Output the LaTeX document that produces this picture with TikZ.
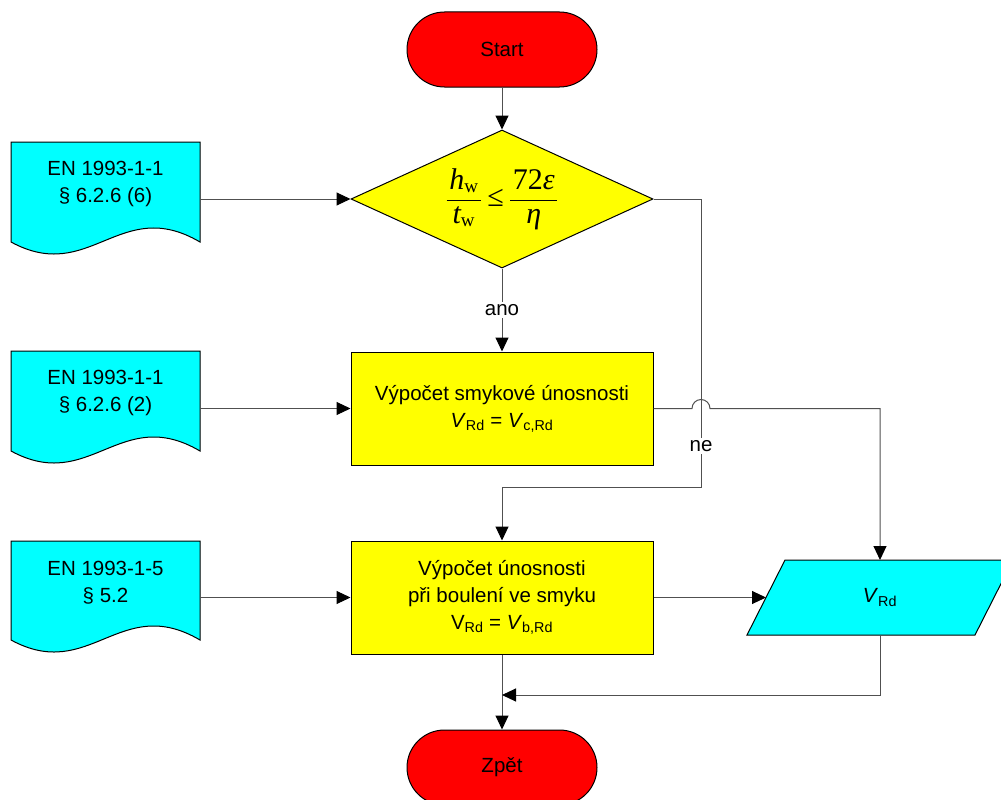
\documentclass[tikz,border=0pt]{standalone}
\usepackage{fontspec}
\setmainfont{Liberation Sans}
\newfontfamily\tms{Liberation Serif}
\usetikzlibrary{arrows.meta,shapes.geometric,calc}
\definecolor{cy}{RGB}{0,255,255}
\definecolor{ye}{RGB}{255,255,0}
\definecolor{rd}{RGB}{255,0,0}
\definecolor{ln}{RGB}{80,80,80}
\begin{document}
\begin{tikzpicture}[x=1pt,y=-1pt,
  every node/.style={font=\fontsize{20.5}{27}\selectfont},
  shapeline/.style={draw=black,line width=1pt},
  term/.style={shapeline,fill=rd,rounded corners=37.5pt,minimum width=190pt,minimum height=75pt,inner sep=0pt},
  proc/.style={shapeline,fill=ye,minimum width=302pt,minimum height=113pt,align=center,inner sep=0pt},
  decis/.style={shapeline,fill=ye,diamond,aspect=2.19,minimum width=302pt,minimum height=138pt,inner sep=0pt},
  docshape/.style={shapeline,fill=cy},
  iofill/.style={shapeline,fill=cy},
  doctext/.style={align=center,inner sep=0pt},
  conn/.style={draw=ln,line width=1pt,-{Triangle[length=14pt,width=13pt,color=black]}},
  lbl/.style={fill=white,inner sep=2pt}
]
\useasboundingbox (0,0) rectangle (1001,800);
\clip (0,0) rectangle (1001,800);

% terminals
\node[term] (start) at (502,49.5) {Start};
\node[term] (zpet) at (502,767.5) {Zpět};

% decision
\node[decis] (dia) at (502,199) {\fontsize{30}{34}\selectfont
  $\displaystyle
  \frac{\mkern2mu\mbox{\tms\itshape h}_{\mbox{\tms\fontsize{19}{19}\selectfont w}}\mkern2mu}
       {\mkern2mu\mbox{\tms\itshape t}_{\mbox{\tms\fontsize{19}{19}\selectfont w}}\mkern2mu}
  \mbox{\tms\,≤\,}
  \frac{\mkern2mu\mbox{\tms 72\itshape ε}\mkern2mu}{\mbox{\tms\itshape η}}$};

% process boxes
\node[proc] (box1) at (502,408.5) {Výpočet smykové únosnosti\\
  \textit{V}\textsubscript{Rd} = \textit{V}\textsubscript{c,Rd}};
\node[proc] (box2) at (502,597.5) {Výpočet únosnosti\\při boulení ve smyku\\
  V\textsubscript{Rd} = \textit{V}\textsubscript{b,Rd}};

% documents
\draw[docshape] (11,142) -- (200,142) -- (200,242)
  .. controls (120,195) and (90,285) .. (11,242) -- cycle;
\node[doctext] (d1) at (105.5,184) {EN 1993-1-1\\§ 6.2.6 (6)};
\coordinate (d1r) at (200,200);
\draw[docshape] (11,351) -- (200,351) -- (200,451)
  .. controls (120,404) and (90,494) .. (11,451) -- cycle;
\node[doctext] (d2) at (105.5,393) {EN 1993-1-1\\§ 6.2.6 (2)};
\coordinate (d2r) at (200,408);
\draw[docshape] (11,541) -- (200,541) -- (200,640)
  .. controls (120,593) and (90,683) .. (11,640) -- cycle;
\node[doctext] (d3) at (105.5,583) {EN 1993-1-5\\§ 5.2};
\coordinate (d3r) at (200,597);

% output parallelogram
\draw[iofill] (785,560) -- (1013,560) -- (975,635) -- (747,635) -- cycle;
\node (out) at (880,597.5) {\textit{V}\textsubscript{Rd}};
\coordinate (outtop) at (880,560);
\coordinate (outleft) at (766,597.5);
\coordinate (outbot) at (880,635);

% helper coordinates
\coordinate (nx) at (701,487);
\coordinate (jn) at (502,695);

% connectors
\draw[conn] (start.south) -- (dia.north);
\draw[conn] (d1r |- dia.west) -- (dia.west);
\draw[conn] (d2r |- box1.west) -- (box1.west);
\draw[conn] (d3r |- box2.west) -- (box2.west);
\draw[conn] (dia.south) -- (box1.north) node[midway,lbl] (ano) {ano};
\draw[conn] (dia.east) -- (dia.east -| nx) -- (nx) -- (nx -| box2.north) -- (box2.north);
\node[lbl] (ne) at (701,446) {ne};
\draw[conn] (box1.east) -- ($(nx |- box1.east)+(-9,0)$)
  arc[start angle=180,end angle=0,radius=9pt]
  -- (outtop |- box1.east) -- (outtop);
\draw[conn] (box2.east) -- (outleft);
\draw[conn] (box2.south) -- (zpet.north);
\draw[conn] (outbot) -- (outbot |- jn) -- (jn);
\end{tikzpicture}
\end{document}
